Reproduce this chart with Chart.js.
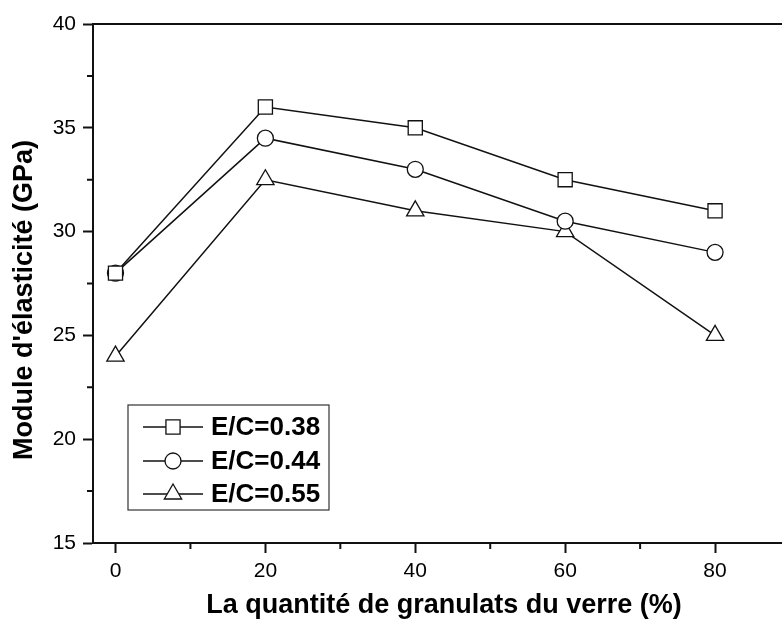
<!DOCTYPE html>
<html>
<head>
<meta charset="utf-8">
<script src="https://cdn.jsdelivr.net/npm/chart.js@4/dist/chart.umd.min.js"></script>
<style>
  html, body { margin: 0; padding: 0; background: #ffffff; overflow: hidden; }
  #wrap { width: 790px; height: 625px; }
</style>
</head>
<body>
<div id="wrap"><canvas id="c" width="790" height="625"></canvas></div>
<script>
// Glass aggregate content (%) and elastic modulus (GPa) per water/cement ratio
const glassContent = [0, 20, 40, 60, 80];
const ec038 = [28, 36, 35, 32.5, 31];
const ec044 = [28, 34.5, 33, 30.5, 29];
const ec055 = [24, 32.5, 31, 30, 25];
const seriesNames = ['E/C=0.38', 'E/C=0.44', 'E/C=0.55'];
const xTicks = [0, 20, 40, 60, 80];
const xMinorTicks = [10, 30, 50, 70, 90];
const yMinorTicks = [17.5, 22.5, 27.5, 32.5, 37.5];
const xTitle = 'La quantité de granulats du verre (%)';
const yTitle = "Module d'élasticité (GPa)";

const INK = '#111111';
const FONT = '"Liberation Sans", Arial, sans-serif';

function toPoints(vals) {
  return glassContent.map((x, i) => ({ x: x, y: vals[i] }));
}

function seriesStyle(style, radius) {
  return {
    borderColor: INK,
    borderWidth: 1.5,
    backgroundColor: '#ffffff',
    pointStyle: style,
    pointRadius: radius,
    pointHoverRadius: radius,
    pointBackgroundColor: '#ffffff',
    pointBorderColor: INK,
    pointBorderWidth: 1.3,
    tension: 0,
    fill: false
  };
}

const styles = [['rect', 10], ['circle', 8], ['triangle', 10]];

// Frame, minor ticks, axis titles and the boxed legend
const decorations = {
  id: 'decorations',
  afterDraw(chart) {
    const ctx = chart.ctx;
    const area = chart.chartArea;
    const xs = chart.scales.x;
    const ys = chart.scales.y;
    ctx.save();
    ctx.strokeStyle = INK;
    ctx.lineWidth = 2;
    ctx.beginPath();
    ctx.moveTo(area.left, area.top);
    ctx.lineTo(area.right, area.top);
    ctx.lineTo(area.right, area.bottom);
    ctx.stroke();

    // minor ticks
    ctx.lineWidth = 2;
    ctx.beginPath();
    xMinorTicks.forEach(v => {
      const px = xs.getPixelForValue(v);
      ctx.moveTo(px, area.bottom);
      ctx.lineTo(px, area.bottom + 6);
    });
    yMinorTicks.forEach(v => {
      const py = ys.getPixelForValue(v);
      ctx.moveTo(area.left, py);
      ctx.lineTo(area.left - 6, py);
    });
    ctx.stroke();

    // axis titles
    ctx.fillStyle = '#000000';
    ctx.font = 'bold 27px ' + FONT;
    ctx.textAlign = 'center';
    ctx.textBaseline = 'middle';
    ctx.fillText(xTitle, 444, 606);
    ctx.save();
    ctx.translate(25, 300);
    ctx.rotate(-Math.PI / 2);
    ctx.fillText(yTitle, 0, 0);
    ctx.restore();

    // legend
    const bx = 128, by = 405, bw = 201, bh = 105;
    ctx.lineWidth = 1.2;
    ctx.strokeStyle = '#333333';
    ctx.fillStyle = '#ffffff';
    ctx.fillRect(bx, by, bw, bh);
    ctx.strokeRect(bx, by, bw, bh);
    const rows = [427, 461, 494];
    chart.data.datasets.forEach((ds, i) => {
      const y = rows[i];
      ctx.strokeStyle = INK;
      ctx.lineWidth = 1.5;
      ctx.beginPath();
      ctx.moveTo(143, y);
      ctx.lineTo(203, y);
      ctx.stroke();
      ctx.fillStyle = '#ffffff';
      ctx.lineWidth = 1.3;
      Chart.helpers.drawPoint(ctx, {
        pointStyle: ds.pointStyle,
        radius: ds.pointRadius,
        rotation: 0,
        borderWidth: 1.3
      }, 173, y);
      ctx.fillStyle = '#000000';
      ctx.font = 'bold 26px ' + FONT;
      ctx.textAlign = 'left';
      ctx.textBaseline = 'middle';
      ctx.fillText(ds.label, 211, y + 1);
    });
    ctx.restore();
  }
};

const datasets = [ec038, ec044, ec055].map((vals, i) =>
  Object.assign({ label: seriesNames[i], data: toPoints(vals) }, seriesStyle(styles[i][0], styles[i][1]))
);

new Chart(document.getElementById('c'), {
  type: 'line',
  data: { datasets: datasets },
  options: {
    responsive: false,
    animation: false,
    events: [],
    layout: { autoPadding: false, padding: { top: 24, left: 0, right: 0, bottom: 0 } },
    plugins: {
      legend: { display: false },
      tooltip: { enabled: false }
    },
    scales: {
      x: {
        type: 'linear',
        min: -3,
        max: 90,
        afterFit(scale) {
          scale.height = 82;
          scale.paddingLeft = 0;
          scale.paddingRight = 0;
        },
        afterBuildTicks(scale) { scale.ticks = xTicks.map(v => ({ value: v })); },
        grid: {
          drawOnChartArea: false,
          drawTicks: true,
          tickLength: 10,
          tickWidth: 2,
          tickColor: INK
        },
        border: { display: true, color: INK, width: 2 },
        ticks: {
          color: '#000000',
          padding: 6,
          maxRotation: 0,
          font: { family: FONT, size: 21 }
        }
      },
      y: {
        type: 'linear',
        min: 15,
        max: 40,
        afterFit(scale) { scale.width = 93; },
        grid: {
          drawOnChartArea: false,
          drawTicks: true,
          tickLength: 10,
          tickWidth: 2,
          tickColor: INK
        },
        border: { display: true, color: INK, width: 2 },
        ticks: {
          stepSize: 5,
          color: '#000000',
          padding: 7,
          font: { family: FONT, size: 21 }
        }
      }
    }
  },
  plugins: [decorations]
});
</script>
</body>
</html>
